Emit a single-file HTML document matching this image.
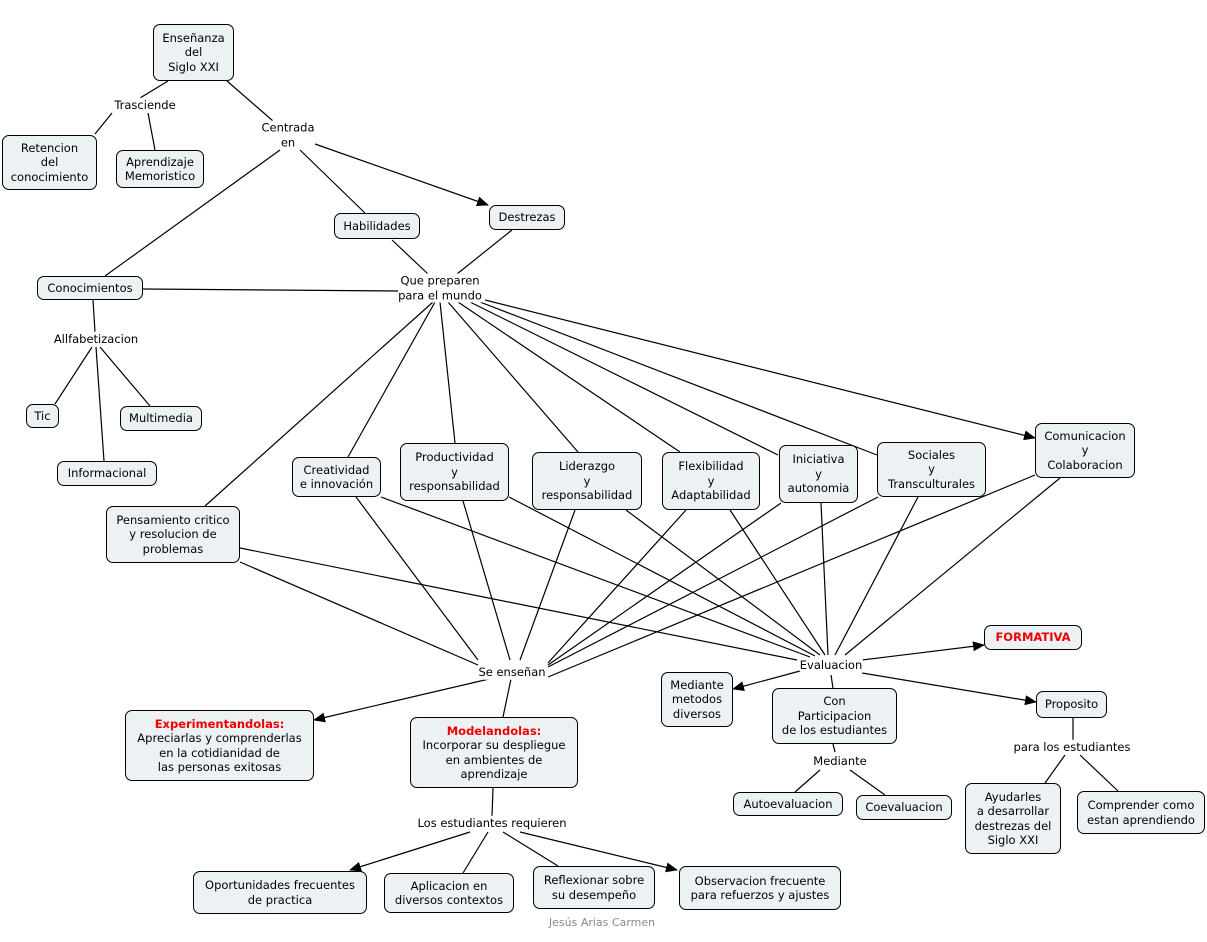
<!DOCTYPE html>
<html><head><meta charset="utf-8"><style>
body{margin:0;width:1207px;height:942px;background:#fff;position:relative;overflow:hidden;font-family:"DejaVu Sans","Liberation Sans",sans-serif;font-size:11.5px;color:#000}
.n{position:absolute;box-sizing:border-box;border:1px solid #000;border-radius:7px;background:#ecf2f4;display:flex;align-items:center;justify-content:center;text-align:center;line-height:14.5px}
.l{position:absolute;background:#fff;text-align:center;line-height:14.5px;transform:translate(-50%,-50%);white-space:nowrap}
.r{color:#e00;font-weight:bold}
svg{position:absolute;left:0;top:0}
</style></head><body>
<svg width="1207" height="942" stroke="#000" stroke-width="1.2" fill="none">
<defs><marker id="a" markerWidth="12" markerHeight="10" refX="11" refY="5" orient="auto" markerUnits="userSpaceOnUse"><path d="M0,0L12,5L0,10z" fill="#000" stroke="none"/></marker></defs>
<line x1="168" y1="81" x2="140" y2="98"/><line x1="112" y1="113" x2="95" y2="134"/><line x1="148" y1="113" x2="155" y2="150"/>
<line x1="227" y1="81" x2="273" y2="121"/><line x1="315" y1="144" x2="488" y2="205" marker-end="url(#a)"/><line x1="300" y1="150" x2="365" y2="213"/><line x1="280" y1="150" x2="105" y2="276"/>
<line x1="392" y1="240" x2="428" y2="274"/><line x1="512" y1="230" x2="457" y2="274"/>
<line x1="143" y1="289" x2="398" y2="291"/>
<line x1="93" y1="300" x2="95" y2="332"/><line x1="92" y1="347" x2="55" y2="404"/><line x1="100" y1="347" x2="150" y2="406"/><line x1="96" y1="347" x2="104" y2="461"/>
<line x1="433" y1="302" x2="205" y2="506"/><line x1="435" y1="302" x2="348" y2="457"/><line x1="440" y1="302" x2="455" y2="443"/><line x1="448" y1="302" x2="578" y2="452"/><line x1="458" y1="302" x2="680" y2="452"/><line x1="470" y1="302" x2="778" y2="455"/><line x1="480" y1="302" x2="877" y2="455"/><line x1="485" y1="300" x2="1035" y2="438" marker-end="url(#a)"/>
<line x1="240" y1="562" x2="478" y2="665"/><line x1="356" y1="497" x2="478" y2="660"/><line x1="463" y1="501" x2="510" y2="660"/><line x1="575" y1="510" x2="520" y2="660"/><line x1="686" y1="510" x2="548" y2="663"/><line x1="781" y1="503" x2="548" y2="665"/><line x1="878" y1="497" x2="548" y2="667"/><line x1="1035" y1="475" x2="548" y2="677"/>
<line x1="240" y1="548" x2="797" y2="660"/><line x1="381" y1="497" x2="810" y2="657"/><line x1="509" y1="497" x2="815" y2="656"/><line x1="626" y1="510" x2="820" y2="655"/><line x1="730" y1="510" x2="825" y2="655"/><line x1="821" y1="503" x2="828" y2="655"/><line x1="918" y1="497" x2="835" y2="655"/><line x1="1060" y1="478" x2="845" y2="655"/>
<line x1="862" y1="660" x2="984" y2="645" marker-end="url(#a)"/><line x1="800" y1="671" x2="733" y2="689" marker-end="url(#a)"/><line x1="831" y1="675" x2="833" y2="688"/><line x1="862" y1="673" x2="1036" y2="702" marker-end="url(#a)"/>
<line x1="833" y1="744" x2="835" y2="752"/><line x1="820" y1="770" x2="795" y2="792"/><line x1="850" y1="770" x2="885" y2="795"/>
<line x1="1073" y1="718" x2="1073" y2="740"/><line x1="1065" y1="755" x2="1045" y2="783"/><line x1="1080" y1="755" x2="1118" y2="791"/>
<line x1="489" y1="679" x2="314" y2="720" marker-end="url(#a)"/><line x1="511" y1="679" x2="503" y2="717"/>
<line x1="493" y1="788" x2="492" y2="816"/><line x1="470" y1="832" x2="350" y2="870" marker-end="url(#a)"/><line x1="488" y1="832" x2="463" y2="873"/><line x1="503" y1="832" x2="558" y2="866"/><line x1="520" y1="832" x2="677" y2="870" marker-end="url(#a)"/>
</svg>
<div class="n" style="left:153px;top:24px;width:81px;height:57px">Enseñanza<br>del<br>Siglo XXI</div>
<div class="n" style="left:2px;top:135px;width:95px;height:55px">Retencion<br>del<br>conocimiento</div>
<div class="n" style="left:116px;top:150px;width:88px;height:38px">Aprendizaje<br>Memoristico</div>
<div class="n" style="left:334px;top:213px;width:86px;height:26px">Habilidades</div>
<div class="n" style="left:489px;top:205px;width:76px;height:25px">Destrezas</div>
<div class="n" style="left:37px;top:276px;width:106px;height:24px">Conocimientos</div>
<div class="n" style="left:26px;top:404px;width:33px;height:24px">Tic</div>
<div class="n" style="left:120px;top:406px;width:82px;height:25px">Multimedia</div>
<div class="n" style="left:57px;top:461px;width:100px;height:25px">Informacional</div>
<div class="n" style="left:292px;top:457px;width:89px;height:40px">Creatividad<br>e innovación</div>
<div class="n" style="left:400px;top:443px;width:109px;height:58px">Productividad<br>y<br>responsabilidad</div>
<div class="n" style="left:532px;top:452px;width:110px;height:58px">Liderazgo<br>y<br>responsabilidad</div>
<div class="n" style="left:662px;top:452px;width:98px;height:58px">Flexibilidad<br>y<br>Adaptabilidad</div>
<div class="n" style="left:779px;top:445px;width:79px;height:58px">Iniciativa<br>y<br>autonomia</div>
<div class="n" style="left:877px;top:442px;width:109px;height:55px">Sociales<br>y<br>Transculturales</div>
<div class="n" style="left:1035px;top:423px;width:100px;height:55px">Comunicacion<br>y<br>Colaboracion</div>
<div class="n" style="left:106px;top:506px;width:134px;height:57px">Pensamiento critico<br>y resolucion de<br>problemas</div>
<div class="n r" style="left:984px;top:625px;width:98px;height:25px">FORMATIVA</div>
<div class="n" style="left:661px;top:672px;width:72px;height:55px">Mediante<br>metodos<br>diversos</div>
<div class="n" style="left:772px;top:688px;width:125px;height:56px">Con<br>Participacion<br>de los estudiantes</div>
<div class="n" style="left:1036px;top:691px;width:71px;height:27px">Proposito</div>
<div class="n" style="left:125px;top:710px;width:189px;height:71px"><div><span class="r">Experimentandolas:</span><br>Apreciarlas y comprenderlas<br>en la cotidianidad de<br>las personas exitosas</div></div>
<div class="n" style="left:410px;top:717px;width:168px;height:71px"><div><span class="r">Modelandolas:</span><br>Incorporar su despliegue<br>en ambientes de<br>aprendizaje</div></div>
<div class="n" style="left:733px;top:792px;width:110px;height:24px">Autoevaluacion</div>
<div class="n" style="left:856px;top:795px;width:96px;height:25px">Coevaluacion</div>
<div class="n" style="left:965px;top:783px;width:96px;height:71px">Ayudarles<br>a desarrollar<br>destrezas del<br>Siglo XXI</div>
<div class="n" style="left:1077px;top:791px;width:128px;height:43px">Comprender como<br>estan aprendiendo</div>
<div class="n" style="left:193px;top:871px;width:174px;height:43px">Oportunidades frecuentes<br>de practica</div>
<div class="n" style="left:384px;top:873px;width:130px;height:40px">Aplicacion en<br>diversos contextos</div>
<div class="n" style="left:533px;top:866px;width:122px;height:43px">Reflexionar sobre<br>su desempeño</div>
<div class="n" style="left:679px;top:866px;width:162px;height:44px">Observacion frecuente<br>para refuerzos y ajustes</div>
<div class="l" style="left:145px;top:105px">Trasciende</div>
<div class="l" style="left:288px;top:135px">Centrada<br>en</div>
<div class="l" style="left:440px;top:288px">Que preparen<br>para el mundo</div>
<div class="l" style="left:96px;top:339px">Allfabetizacion</div>
<div class="l" style="left:512px;top:672px">Se enseñan</div>
<div class="l" style="left:831px;top:665px">Evaluacion</div>
<div class="l" style="left:840px;top:761px">Mediante</div>
<div class="l" style="left:1072px;top:747px">para los estudiantes</div>
<div class="l" style="left:492px;top:823px">Los estudiantes requieren</div>
<div class="l" style="left:602px;top:923px;color:#888;font-size:11px">Jesús Arias Carmen</div>
</body></html>
